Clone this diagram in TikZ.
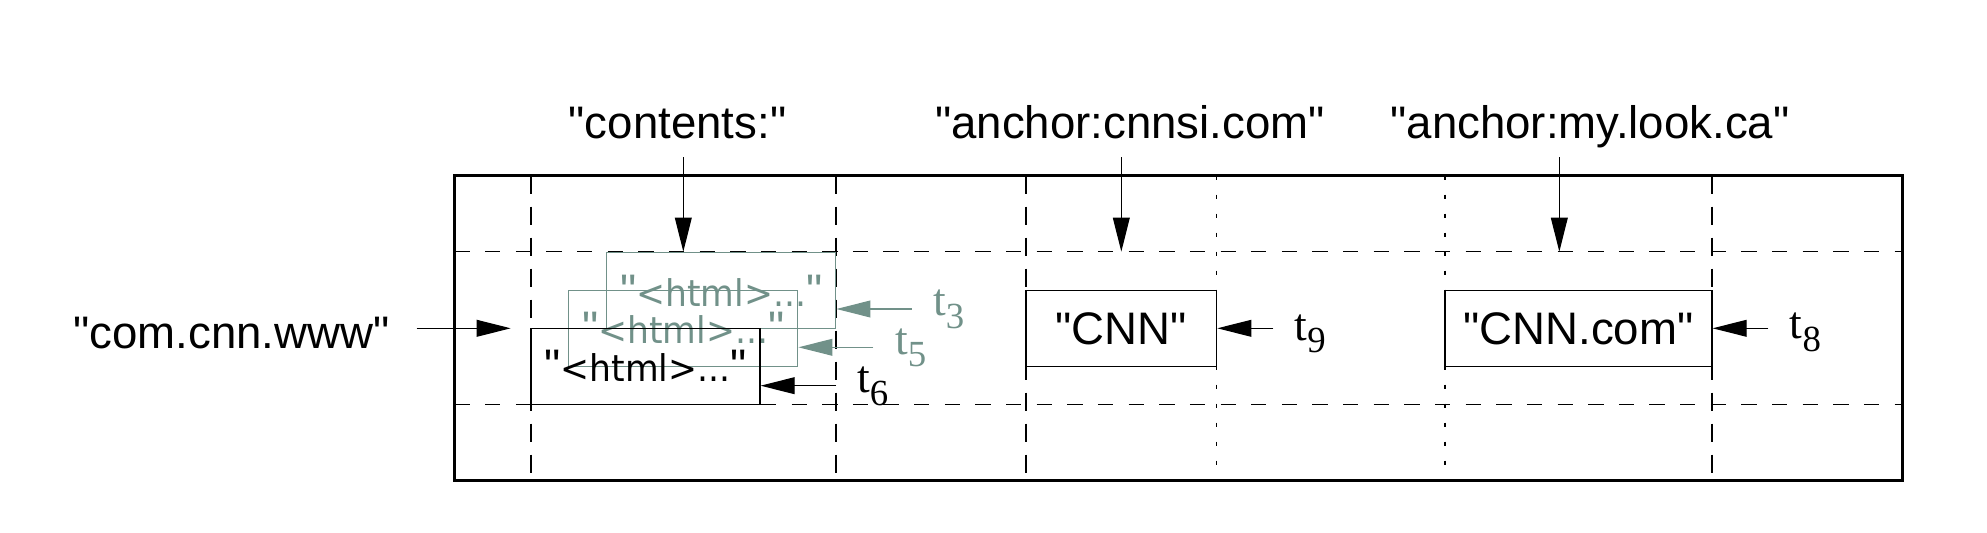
\documentclass[tikz,border=0pt]{standalone}
\usepackage{fontspec}
\setmainfont{Liberation Sans}[Ligatures=TeXOff]
\newfontfamily\htmlfont{DejaVu Sans}[FakeStretch=0.94]
\newfontfamily\seriffont{Liberation Serif}
\usetikzlibrary{arrows.meta}
\definecolor{sage}{RGB}{113,145,137}
\newcommand{\tstamp}[1]{{\seriffont t\raisebox{-3.2pt}{\fontsize{9.2}{10}\selectfont #1}}}
\newcommand{\htmltext}{{\htmlfont\fontsize{9.2}{11}\selectfont <html>...}}
\begin{document}
\begin{tikzpicture}[>={Triangle[length=8.5pt,width=4.2pt]}, x=.25pt, y=-.25pt, line width=.3pt,
  font=\fontsize{11.4}{13.7}\selectfont,
  cell/.style={draw, inner sep=0pt, minimum height=19pt},
  html/.style={cell, minimum width=57.25pt},
  stamp/.style={anchor=base west, inner sep=0pt},
  hdash/.style={dash pattern=on 3.83pt off 3.83pt},
  vdash/.style={dash pattern=on 4.5pt off 3.25pt},
  vdot/.style={dash pattern=on 1pt off 3.75pt}]

\useasboundingbox (0,0) rectangle (1987,533);

% table frame and rows
\draw[line width=.68pt] (454.5,175.7) rectangle (1902.7,480.5);
\coordinate (rowtop) at (454.5,251.7);
\coordinate (rowbot) at (454.5,404.5);
\draw[hdash] (rowtop) -- (1902.7,251.7);
\draw[hdash] (rowbot) -- (1902.7,404.5);

% columns
\foreach \x in {531,836,1026,1712}
    \draw[vdash] (\x,175.7) -- (\x,480.5);
\foreach \x in {1216.7,1445}
    \draw[vdot] (\x,175.7) -- (\x,480.5);

% keys
\node (kcont) [anchor=base] at (677.5,139) {"contents:"};
\node (kcnnsi) [anchor=base] at (1130,139) {"anchor:cnnsi.com"};
\node (klook) [anchor=base] at (1590,139) {"anchor:my.look.ca"};
\node (krow) [anchor=base] at (231.5,348.3) {"com.cnn.www"};

\coordinate (acont) at (683.3,157.3);
\coordinate (acnnsi) at (1121.3,157.3);
\coordinate (alook) at (1559.3,157.3);
\coordinate (arow) at (416.7,328.3);
\coordinate (erow) at (510.7,328.3);
\draw[->] (acont) -- (acont |- rowtop);
\draw[->] (acnnsi) -- (acnnsi |- rowtop);
\draw[->] (alook) -- (alook |- rowtop);
\draw[->] (arow) -- (erow);

% cells
\node (v3) [html, draw=sage, text=sage] at (721.3,290.5) {"\htmltext"};
\node (v5) [html, draw=sage, text=sage] at (683.3,328.3) {"\htmltext"};
\node (v6) [html] at (645.5,366.3) {"\htmltext"};
\node (cnn) [cell, minimum width=47.7pt] at (1121.3,328.7) {"CNN"};
\node (cnncom) [cell, minimum width=66.75pt] at (1578.5,328.7) {"CNN.com"};

% timestamps
\node (t3) [stamp, text=sage] at (932.7,316) {\tstamp{3}};
\node (t5) [stamp, text=sage] at (894.5,354) {\tstamp{5}};
\node (t6) [stamp] at (856.7,393) {\tstamp{6}};
\node (t9) [stamp] at (1294,340) {\tstamp{9}};
\node (t8) [stamp] at (1789.3,338.5) {\tstamp{8}};

\coordinate (a3) at (911.7,309);
\coordinate (a5) at (873.3,347.3);
\coordinate (a6) at (836,385.7);
\coordinate (a9) at (1273.3,328.3);
\coordinate (a8) at (1768.3,328.3);
\draw[->, sage] (a3) -- (a3 -| v3.east);
\draw[->, sage] (a5) -- (a5 -| v5.east);
\draw[->] (a6) -- (a6 -| v6.east);
\draw[->] (a9) -- (a9 -| cnn.east);
\draw[->] (a8) -- (a8 -| cnncom.east);
\end{tikzpicture}
\end{document}
